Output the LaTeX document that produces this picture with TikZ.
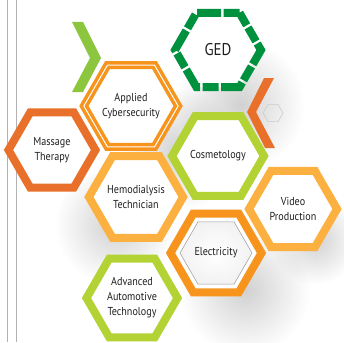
\documentclass[tikz,border=0pt]{standalone}
\usepackage{fontspec}
\setmainfont[FakeStretch=0.88]{PT Sans}
\usetikzlibrary{shapes.geometric,fadings}
\definecolor{gedgreen}{HTML}{00913F}
\definecolor{limegreen}{HTML}{B3D234}
\definecolor{leafgreen}{HTML}{8CC63F}
\definecolor{deeporange}{HTML}{F7941D}
\definecolor{lightorange}{HTML}{FBB040}
\definecolor{redorange}{HTML}{E8702A}
\definecolor{textgrey}{HTML}{1F1F1F}
\tikzfading[name=softglow, inner color=transparent!0, outer color=transparent!100]
\tikzset{
  hexa/.style   = {regular polygon, regular polygon sides=6, inner sep=0pt,
                   line width=8pt, fill=white, align=center, text=textgrey,
                   font=\fontsize{11.5}{15}\selectfont},
  ring/.style   = {hexa, draw=#1},
  inner/.style  = {regular polygon, regular polygon sides=6, inner sep=0pt,
                   draw=black!40, line width=0.5pt, align=center, text=textgrey,
                   inner color=white, outer color=black!5,
                   font=\fontsize{11.5}{15}\selectfont},
  chevron/.style = {draw=none, fill=#1},
  haze/.style   = {fill=black, fill opacity=0.18, path fading=softglow}
}

\begin{document}
\begin{tikzpicture}[x=1pt,y=-1pt]
\useasboundingbox (0,0) rectangle (344,342);
\fill[white] (0,0) rectangle (344,342);

% soft shadows behind the cluster
\fill[haze] (240,105) circle (65);
\fill[haze] (115,225) circle (60);
\fill[haze] (245,290) circle (65);
\fill[haze] (315,240) circle (45);
\fill[haze] (180,150) circle (60);

% page rule on the left
\draw[black!30, line width=0.8pt] (7,0) -- (7,342);
\draw[black!30, line width=0.8pt] (16,0) -- (16,342);

% chevrons and the small hexagon
\fill[chevron=leafgreen] (72,22) -- (83,22) -- (101,58) -- (83,92) -- (72,92) -- (90,58) -- cycle;
\fill[chevron=redorange] (264,78) -- (274,78) -- (256,112) -- (275,148) -- (265,148) -- (247,112) -- cycle;
\node[regular polygon, regular polygon sides=6, minimum size=20pt, draw=black!20, line width=0.6pt] (dot) at (273,113) {};

% first row
\node[ring=gedgreen, minimum size=86pt, dash pattern=on 16pt off 2.5pt on 24pt off 2.5pt,
      font=\fontsize{17}{20}\selectfont] (ged) at (218,50) {GED};
\node[ring=redorange, minimum size=87pt] (massage) at (52,150) {Massage\\Therapy};
\node[hexa, draw=deeporange, line width=3.5pt, double=white, double distance=1pt,
      minimum size=89pt] (cyber) at (131,106) {Applied\\Cybersecurity};
% second row
\node[ring=limegreen, minimum size=92pt] (cosme) at (218,156) {Cosmetology};
\node[ring=lightorange, minimum size=90pt] (hemo) at (136,197) {Hemodialysis\\Technician};
\node[ring=lightorange, minimum size=88pt] (video) at (293,209) {Video\\Production};
% third row
\node[ring=deeporange, minimum size=91pt] (elec) at (216,253) {};
\node[inner, minimum size=72pt] (elecin) at (elec) {Electricity};
\node[ring=limegreen, minimum size=91pt] (auto) at (132,298) {Advanced\\Automotive\\Technology};

\end{tikzpicture}
\end{document}
